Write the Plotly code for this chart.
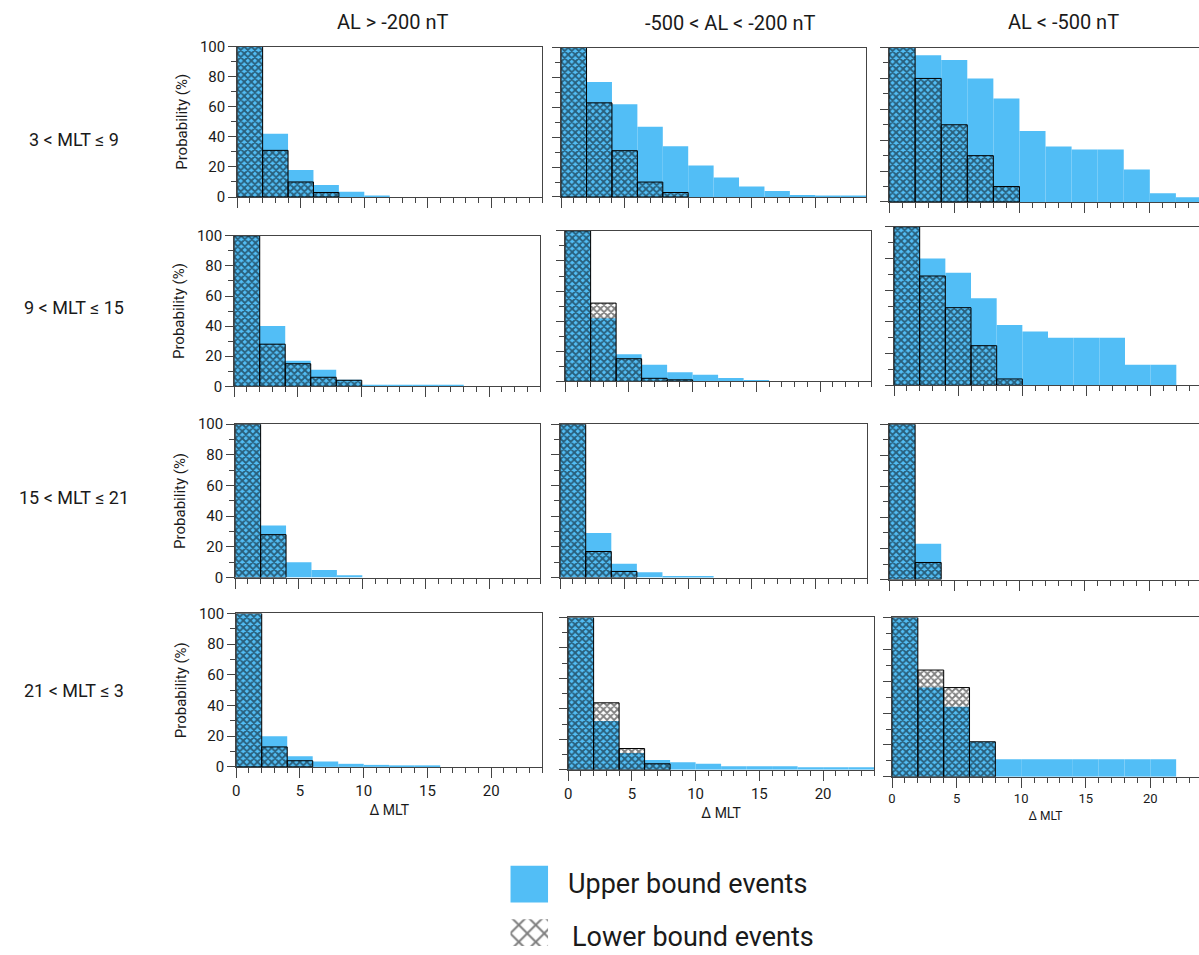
import plotly.graph_objects as go

# ---------------------------------------------------------------
# Probability of the MLT extent (bins of 2 h) for each MLT sector
# (rows) and AL activity level (columns).
# ---------------------------------------------------------------
BIN_LEFT = [0, 2, 4, 6, 8, 10, 12, 14, 16, 18, 20, 22]
BIN_WIDTH = 2

COLUMN_TITLES = ["AL > -200 nT", "-500 < AL < -200 nT", "AL < -500 nT"]
ROW_TITLES = ["3 < MLT ≤ 9", "9 < MLT ≤ 15", "15 < MLT ≤ 21", "21 < MLT ≤ 3"]
X_TICKS = [0, 5, 10, 15, 20]
Y_TICKS = [0, 20, 40, 60, 80, 100]

# 3 < MLT <= 9
UPPER_03_09_QUIET = [100, 42, 18, 8, 3.5, 1, 0, 0, 0, 0, 0, 0]
LOWER_03_09_QUIET = [100, 31, 10, 3, 0, 0, 0, 0, 0, 0, 0, 0]
UPPER_03_09_MOD = [100, 77, 62, 47, 34, 21, 13, 7, 4, 1.3, 0.5, 0.5]
LOWER_03_09_MOD = [100, 63, 31, 10, 3, 0, 0, 0, 0, 0, 0, 0]
UPPER_03_09_STRONG = [100, 95, 92, 80, 67, 46, 36, 34, 34, 21, 5.6, 3]
LOWER_03_09_STRONG = [100, 80, 50, 30, 10, 0, 0, 0, 0, 0, 0, 0]

# 9 < MLT <= 15
UPPER_09_15_QUIET = [100, 40, 17, 11, 4.4, 1, 1, 1, 1, 0, 0, 0]
LOWER_09_15_QUIET = [100, 28, 15, 6, 4, 0, 0, 0, 0, 0, 0, 0]
UPPER_09_15_MOD = [100, 42, 18, 11, 6, 4.4, 2.2, 0.7, 0, 0, 0, 0]
LOWER_09_15_MOD = [100, 52, 15, 2, 1, 0, 0, 0, 0, 0, 0, 0]
UPPER_09_15_STRONG = [100, 80, 71, 55, 38, 34, 30, 30, 30, 13, 13, 0]
LOWER_09_15_STRONG = [100, 69, 49, 25, 4, 0, 0, 0, 0, 0, 0, 0]

# 15 < MLT <= 21
UPPER_15_21_QUIET = [100, 34, 10, 5, 1.5, 0, 0, 0, 0, 0, 0, 0]
LOWER_15_21_QUIET = [100, 28, 0, 0, 0, 0, 0, 0, 0, 0, 0, 0]
UPPER_15_21_MOD = [100, 29, 9, 3.5, 1, 1, 0, 0, 0, 0, 0, 0]
LOWER_15_21_MOD = [100, 17, 4, 0, 0, 0, 0, 0, 0, 0, 0, 0]
UPPER_15_21_STRONG = [100, 23, 0, 0, 0, 0, 0, 0, 0, 0, 0, 0]
LOWER_15_21_STRONG = [100, 11, 0, 0, 0, 0, 0, 0, 0, 0, 0, 0]

# 21 < MLT <= 3
UPPER_21_03_QUIET = [100, 20, 7, 3.5, 2, 1.3, 1, 1, 0, 0, 0, 0]
LOWER_21_03_QUIET = [100, 13, 4, 0, 0, 0, 0, 0, 0, 0, 0, 0]
UPPER_21_03_MOD = [100, 32, 11, 6.5, 5, 4, 2.4, 2.4, 2.4, 1.7, 1.7, 1.7]
LOWER_21_03_MOD = [100, 44, 14, 4, 0, 0, 0, 0, 0, 0, 0, 0]
UPPER_21_03_STRONG = [100, 56, 44, 22, 11, 11, 11, 11, 11, 11, 11, 0]
LOWER_21_03_STRONG = [100, 67, 56, 22, 0, 0, 0, 0, 0, 0, 0, 0]

UPPER = [
    [UPPER_03_09_QUIET, UPPER_03_09_MOD, UPPER_03_09_STRONG],
    [UPPER_09_15_QUIET, UPPER_09_15_MOD, UPPER_09_15_STRONG],
    [UPPER_15_21_QUIET, UPPER_15_21_MOD, UPPER_15_21_STRONG],
    [UPPER_21_03_QUIET, UPPER_21_03_MOD, UPPER_21_03_STRONG],
]
LOWER = [
    [LOWER_03_09_QUIET, LOWER_03_09_MOD, LOWER_03_09_STRONG],
    [LOWER_09_15_QUIET, LOWER_09_15_MOD, LOWER_09_15_STRONG],
    [LOWER_15_21_QUIET, LOWER_15_21_MOD, LOWER_15_21_STRONG],
    [LOWER_21_03_QUIET, LOWER_21_03_MOD, LOWER_21_03_STRONG],
]

# ---------------------------------------------------------------
# Page geometry: positions are given in page pixels; the vertical
# placement is calibrated (scale + offset) to the displayed page.
# ---------------------------------------------------------------
W, H = 1199, 955
PAGE_Y_SCALE = 0.9848
PAGE_Y_OFFSET = 6.3

BLUE = "#52BEF6"
AXIS_COLOR = "#444444"
FONT = "Roboto, Arial, sans-serif"
TEXT = "#1a1a1a"

# panel boxes in page pixels: left, right (x = 24), top (y = 100), bottom (y = 0)
PANEL_BOX = [
    [(234, 540, 44, 195), (559, 865, 45, 195), (888, 1202, 45, 200)],
    [(231, 538, 234, 385), (563, 870, 229, 380), (893, 1202, 225, 384)],
    [(232, 538, 423, 577), (558, 866, 423, 577), (888, 1202, 423, 579)],
    [(233, 540, 613, 767), (566, 873, 617, 770), (891, 1202, 617, 777)],
]


def fx(px):
    return px / W


def fig_y(py):
    return (py - PAGE_Y_OFFSET) / PAGE_Y_SCALE


def fy(py):
    return min(max(1 - fig_y(py) / H, 0.0), 1.0)


centers = [b + BIN_WIDTH / 2 for b in BIN_LEFT]

fig = go.Figure()
layout_axes = {}

for r in range(4):
    for c in range(3):
        k = r * 3 + c + 1
        xa, ya = f"x{k}", f"y{k}"
        up = UPPER[r][c]
        lo = LOWER[r][c]

        fig.add_trace(go.Bar(
            x=centers, y=up, width=BIN_WIDTH,
            marker=dict(color=BLUE, line=dict(width=0)),
            xaxis=xa, yaxis=ya, showlegend=False, hoverinfo="skip",
        ))
        lx = [cx for cx, v in zip(centers, lo) if v > 0]
        ly = [v for v in lo if v > 0]
        fig.add_trace(go.Bar(
            x=lx, y=ly, width=BIN_WIDTH,
            marker=dict(
                color="rgba(0,0,0,0)",
                line=dict(color="black", width=1),
                pattern=dict(shape="x", fgcolor="black",
                             bgcolor="rgba(0,0,0,0)", size=5,
                             solidity=0.6),
            ),
            xaxis=xa, yaxis=ya, showlegend=False, hoverinfo="skip",
        ))

        left, right, top, bottom = PANEL_BOX[r][c]
        shown_right = min(right, W)
        x_max = 24 * (shown_right - left) / (right - left)
        cut = right > W
        bottom_row = r == 3
        small = c == 2
        xkey = "xaxis" if k == 1 else f"xaxis{k}"
        ykey = "yaxis" if k == 1 else f"yaxis{k}"
        layout_axes[xkey] = dict(
            domain=[fx(left), fx(shown_right)], anchor=ya,
            range=[0, x_max], tickvals=X_TICKS,
            showline=True, linecolor=AXIS_COLOR, linewidth=1, mirror=True,
            ticks="outside", ticklen=10, tickwidth=1, tickcolor=AXIS_COLOR,
            minor=dict(dtick=1, tick0=0, ticks="outside", ticklen=5,
                       tickwidth=1, tickcolor=AXIS_COLOR),
            showgrid=False, zeroline=False,
            showticklabels=bottom_row,
            tickfont=dict(family=FONT, size=13 if small else 15, color=TEXT),
            title=dict(text="Δ MLT" if bottom_row else "",
                       font=dict(family=FONT, size=12 if small else 14,
                                 color=TEXT),
                       standoff=6),
            fixedrange=True,
        )
        layout_axes[ykey] = dict(
            domain=[fy(bottom), fy(top)], anchor=xa,
            range=[0, 100], tickvals=Y_TICKS,
            showline=True, linecolor=AXIS_COLOR, linewidth=1,
            mirror=False if cut else True,
            ticks="outside", ticklen=8, tickwidth=1, tickcolor=AXIS_COLOR,
            minor=dict(dtick=10, tick0=0, ticks="outside", ticklen=5,
                       tickwidth=1, tickcolor=AXIS_COLOR),
            showgrid=False, zeroline=False,
            showticklabels=(c == 0),
            tickfont=dict(family=FONT, size=15, color=TEXT),
            title=dict(text="Probability (%)" if c == 0 else "",
                       font=dict(family=FONT, size=15, color=TEXT),
                       standoff=8),
            fixedrange=True,
        )

# ---------------------------------------------------------------
# Key: swatches on a hidden axis pair whose y values are page pixels
# ---------------------------------------------------------------
KEY_TOP = 866
KEY_BOTTOM = H * PAGE_Y_SCALE + PAGE_Y_OFFSET
fig.add_trace(go.Bar(
    x=[0.5], y=[37], base=[866], width=1,
    marker=dict(color=BLUE, line=dict(width=0)),
    xaxis="x13", yaxis="y13", showlegend=False, hoverinfo="skip",
))
fig.add_trace(go.Bar(
    x=[0.5], y=[35], base=[920], width=1,
    marker=dict(color="rgba(0,0,0,0)", line=dict(width=0),
                pattern=dict(shape="x", fgcolor="black",
                             bgcolor="rgba(0,0,0,0)", size=12,
                             solidity=0.3)),
    xaxis="x13", yaxis="y13", showlegend=False, hoverinfo="skip",
))
layout_axes["xaxis13"] = dict(domain=[fx(508), fx(546)], anchor="y13",
                              range=[0, 1], visible=False, fixedrange=True)
layout_axes["yaxis13"] = dict(domain=[0, fy(KEY_TOP)], anchor="x13",
                              range=[KEY_BOTTOM, KEY_TOP], visible=False,
                              fixedrange=True)

annotations = []
for title, px, py in zip(COLUMN_TITLES, [390, 728, 1063], [19, 20, 19]):
    annotations.append(dict(
        text=title, x=fx(px), y=fy(py), xref="paper", yref="paper",
        xanchor="center", yanchor="middle", showarrow=False,
        font=dict(family=FONT, size=20, color=TEXT),
    ))
for title, py in zip(ROW_TITLES, [137, 306, 497, 690]):
    annotations.append(dict(
        text=title, x=fx(70), y=fy(py), xref="paper", yref="paper",
        xanchor="center", yanchor="middle", showarrow=False,
        font=dict(family=FONT, size=18, color=TEXT),
    ))
annotations.append(dict(
    text="Upper bound events", x=fx(564), y=fy(885), xref="paper",
    yref="paper", xanchor="left", yanchor="middle", showarrow=False,
    font=dict(family=FONT, size=27, color=TEXT),
))
annotations.append(dict(
    text="Lower bound events", x=fx(568), y=fy(938), xref="paper",
    yref="paper", xanchor="left", yanchor="middle", showarrow=False,
    font=dict(family=FONT, size=27, color=TEXT),
))

fig.update_layout(
    width=W, height=H,
    margin=dict(l=0, r=0, t=0, b=0),
    paper_bgcolor="white", plot_bgcolor="white",
    barmode="overlay",
    annotations=annotations,
    font=dict(family=FONT, color=TEXT),
    **layout_axes,
)

fig.write_html("out.html", config={"displayModeBar": False})
